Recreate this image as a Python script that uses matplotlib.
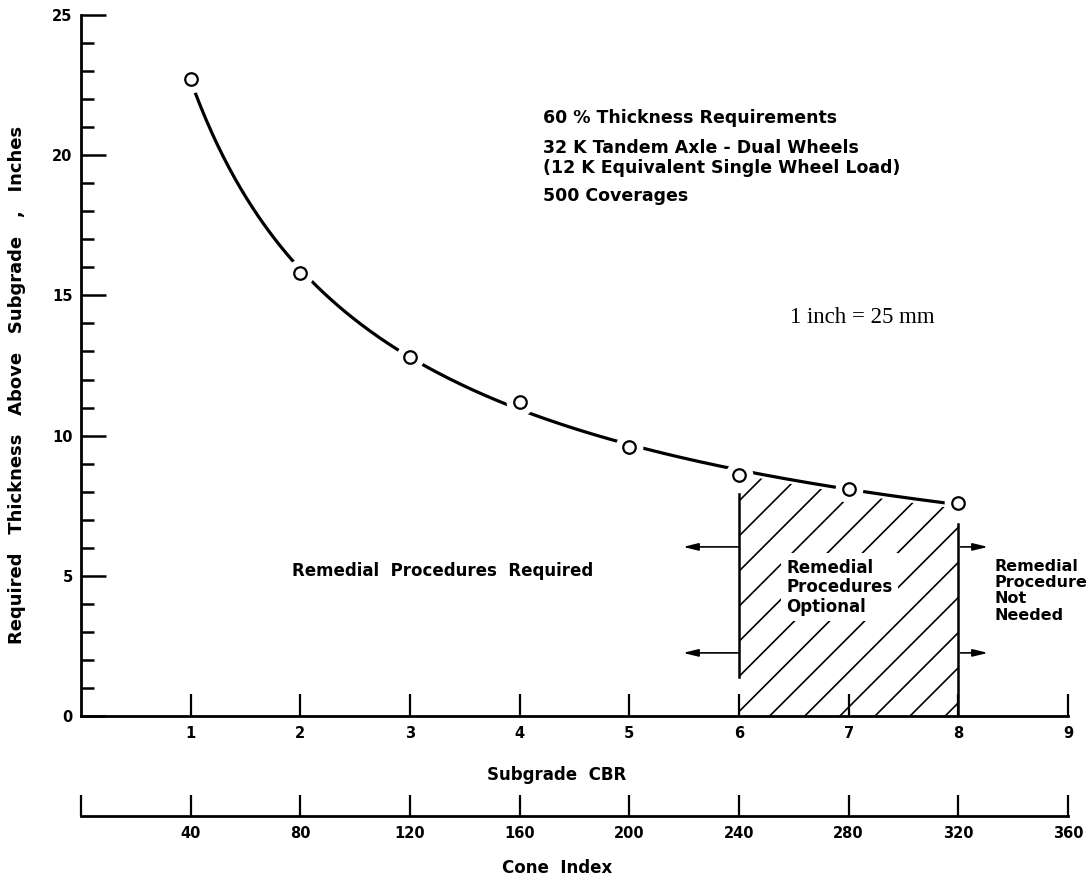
import numpy as np
import matplotlib.pyplot as plt
from matplotlib.patches import Polygon

# thickness curve (inches) against subgrade CBR
cbr = [1, 2, 3, 4, 5, 6, 7, 8]
thickness = [22.7, 15.8, 12.8, 11.2, 9.6, 8.6, 8.1, 7.6]

cbr_ticks = [1, 2, 3, 4, 5, 6, 7, 8, 9]
cone_ticks = [0, 40, 80, 120, 160, 200, 240, 280, 320, 360]
cone_labels = ['', '40', '80', '120', '160', '200', '240', '280', '320', '360']

notes = ['60 % Thickness Requirements',
         '32 K Tandem Axle - Dual Wheels',
         '(12 K Equivalent Single Wheel Load)',
         '500 Coverages']
note_y = [21.33, 20.26, 19.54, 18.54]

opt_lo, opt_hi = 6, 8   # CBR range where remedial work is optional

plt.rcParams['font.family'] = 'DejaVu Sans'
plt.rcParams['font.weight'] = 'bold'

fig = plt.figure(figsize=(10.92, 8.81), dpi=100)
ax = fig.add_axes([0.0742, 0.1873, 0.9038, 0.7957])

# smooth curve: cubic fit in log-log space
fit = np.polyfit(np.log(cbr), np.log(thickness), 3)
xs = np.linspace(cbr[0], cbr[-1], 400)
ys = np.exp(np.polyval(fit, np.log(xs)))
ax.plot(xs, ys, color='black', lw=2.3, zorder=2, solid_capstyle='butt')

# open circles with a white gap around them
ax.plot(cbr, thickness, 'o', ms=20, mfc='white', mec='none', zorder=3)
ax.plot(cbr, thickness, 'o', ms=9, mfc='white', mec='black', mew=1.6, zorder=4)

# hatched zone under the curve between CBR 6 and 8
sel = (xs >= opt_lo) & (xs <= opt_hi)
verts = np.column_stack([xs[sel], ys[sel] - 0.15]).tolist() + [[opt_hi, 0], [opt_lo, 0]]
clip = Polygon(verts, closed=True, facecolor='none', edgecolor='none')
ax.add_patch(clip)
slope = (109.7 / 28.04)
for x0 in np.arange(3.72, 8.1, 0.32):
    ln, = ax.plot([x0, x0 + 12 / slope], [0, 12], color='black', lw=1.2, zorder=1)
    ln.set_clip_path(clip)

ax.plot([opt_lo, opt_lo], [1.4, 7.9], color='black', lw=1.8)
ax.plot([opt_hi, opt_hi], [0, 6.85], color='black', lw=1.8)

arrow = dict(arrowstyle='-|>,head_length=0.9,head_width=0.22', lw=1.2, color='black',
             shrinkA=0, shrinkB=0)
for ya in [6.03, 2.25]:
    ax.annotate('', xy=(5.49, ya), xytext=(opt_lo, ya), arrowprops=arrow)
    ax.annotate('', xy=(8.27, ya), xytext=(opt_hi + 0.02, ya), arrowprops=arrow)

txt = dict(fontweight='bold', linespacing=1.1)
ax.text(3.3, 5.17, 'Remedial  Procedures  Required', ha='center', va='center',
        fontsize=12, **txt)
ax.text(6.43, 5.6, 'Remedial\nProcedures\nOptional', ha='left', va='top',
        bbox=dict(facecolor='white', edgecolor='none', pad=4), zorder=5,
        fontsize=12, **txt)
ax.text(8.33, 5.6, 'Remedial\nProcedure\nNot\nNeeded', ha='left', va='top',
        fontsize=11.5, **txt)

for s, yy in zip(notes, note_y):
    ax.text(4.21, yy, s, ha='left', va='center', fontsize=12.5)

ax.text(7.12, 14.2, '1 inch = 25 mm', ha='center', va='center',
        family='Liberation Serif', fontweight='normal', fontsize=16.5)

ax.set_xlim(0, 9)
ax.set_ylim(0, 25)
ax.set_xticks(cbr_ticks)
ax.set_yticks(range(0, 26, 5))
ax.set_yticks(range(0, 26), minor=True)
for side in ['top', 'right']:
    ax.spines[side].set_visible(False)
for side in ['left', 'bottom']:
    ax.spines[side].set_linewidth(2)
ax.tick_params(axis='y', which='major', direction='in', length=18, width=1.8,
               labelsize=10.5, pad=6)
ax.tick_params(axis='y', which='minor', direction='in', length=9.5, width=1.8)
ax.tick_params(axis='x', direction='in', length=16, width=1.6, labelsize=10.5, pad=7)

# second scale: cone index
ax2 = fig.add_axes([0.0742, 0.0738, 0.9038, 0.0001])
ax2.patch.set_visible(False)
for side in ['top', 'right', 'left']:
    ax2.spines[side].set_visible(False)
ax2.spines['bottom'].set_linewidth(2)
ax2.set_xlim(0, 360)
ax2.set_xticks(cone_ticks)
ax2.set_xticklabels(cone_labels)
ax2.set_yticks([])
ax2.tick_params(axis='x', direction='in', length=15, width=1.6, labelsize=10.5, pad=7)

fig.text(0.0156, 0.563, 'Required   Thickness   Above   Subgrade   ,   Inches',
         rotation=90, ha='center', va='center', fontsize=13)
fig.text(0.51, 0.1203, 'Subgrade  CBR', ha='center', va='center', fontsize=12)
fig.text(0.51, 0.0148, 'Cone  Index', ha='center', va='center', fontsize=12)

fig.savefig('out.png', dpi=100)
